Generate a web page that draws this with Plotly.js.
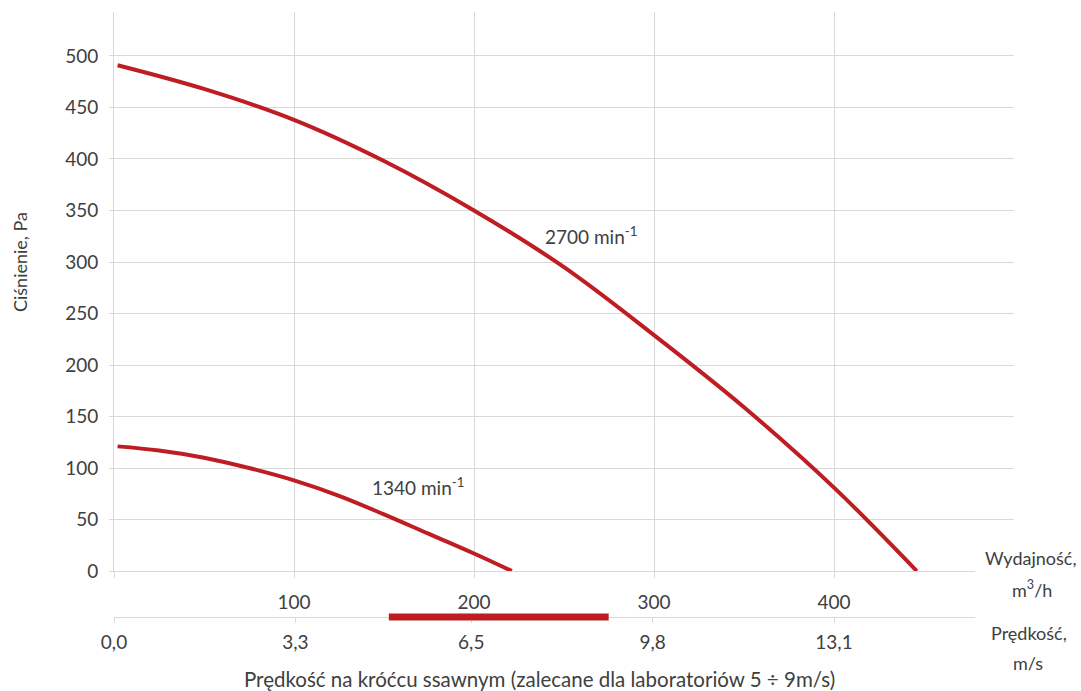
<!DOCTYPE html>
<html>
<head>
<meta charset="utf-8">
<script src="https://cdn.plot.ly/plotly-3.0.1.min.js"></script>
<style>
  html, body { margin: 0; padding: 0; background: #ffffff; }
  #chart { width: 1081px; height: 691px; }
</style>
</head>
<body>
<div id="chart"></div>
<script>
// ---- data ----
const flow2700 = [2, 50, 100, 150, 200, 250, 300, 350, 400, 446];        // m3/h
const pressure2700 = [491, 468, 438, 398, 350, 295, 229, 159, 81, 0];  // Pa
const flow1340 = [2, 25, 50, 75, 100, 125, 150, 175, 200, 221];          // m3/h
const pressure1340 = [121, 117, 110, 100, 88, 73, 55, 36, 17, 0];      // Pa

const flowTicks = [0, 100, 200, 300, 400, 500];
const flowTickLabels = ['', '100', '200', '300', '400', ''];
const velocityTicks = [0.0, 3.3, 6.5, 9.8, 13.1];                       // m/s
const pressureTicks = [0, 50, 100, 150, 200, 250, 300, 350, 400, 450, 500];
const recommendedSpeed = [5, 9];                                         // m/s

const curveLabels = ['2700 min<sup>-1</sup>', '1340 min<sup>-1</sup>'];
const yTitle = 'Ciśnienie, Pa';
const xTitle = 'Prędkość na króćcu ssawnym (zalecane dla laboratoriów 5 ÷ 9m/s)';
const flowUnitLabel = 'Wydajność,';
const flowUnit = 'm<sup>3</sup>/h';
const speedUnitLabel = 'Prędkość,';
const speedUnit = 'm/s';

// ---- style ----
const RED = '#be1e23';
const GRID = '#d9d9d9';
const TXT = '#404040';
const FONT = 'Lato, "Open Sans", sans-serif';
const TICK = 19;

const traces = [
  { x: flow2700, y: pressure2700, xaxis: 'x', yaxis: 'y', type: 'scatter', mode: 'lines',
    line: { color: RED, width: 4, shape: 'spline', smoothing: 1 }, hoverinfo: 'skip' },
  { x: flow1340, y: pressure1340, xaxis: 'x', yaxis: 'y', type: 'scatter', mode: 'lines',
    line: { color: RED, width: 4, shape: 'spline', smoothing: 1 }, hoverinfo: 'skip' }
];

const layout = {
  width: 1081, height: 691,
  margin: { l: 114, r: 67, t: 12, b: 74, pad: 0 },
  paper_bgcolor: '#ffffff', plot_bgcolor: '#ffffff',
  separators: ', ',
  showlegend: false,
  font: { family: FONT, size: TICK, color: TXT },
  xaxis: {
    range: [0, 500], anchor: 'y',
    tickmode: 'array', tickvals: flowTicks, ticktext: flowTickLabels,
    showgrid: true, gridcolor: GRID, gridwidth: 1,
    showline: true, linecolor: GRID, linewidth: 1,
    ticks: 'outside', ticklen: 6, tickcolor: GRID,
    ticklabelstandoff: 8,
    zeroline: false, fixedrange: true,
    tickfont: { family: FONT, size: TICK, color: TXT }
  },
  xaxis2: {
    range: [0, 16.375], overlaying: 'x', anchor: 'free', position: 0, side: 'bottom',
    tickmode: 'array', tickvals: velocityTicks, tickformat: '.1f',
    showgrid: false,
    showline: true, linecolor: GRID, linewidth: 1,
    ticks: 'outside', ticklen: 5, tickcolor: GRID,
    ticklabelstandoff: 3,
    zeroline: false, fixedrange: true,
    tickfont: { family: FONT, size: TICK, color: TXT }
  },
  yaxis: {
    domain: [0.076, 1], range: [0, 542.7],
    tickmode: 'array', tickvals: pressureTicks,
    showgrid: true, gridcolor: GRID, gridwidth: 1,
    showline: true, linecolor: GRID, linewidth: 1,
    ticks: 'outside', ticklen: 4, tickcolor: GRID,
    ticklabelstandoff: 7,
    zeroline: false, fixedrange: true,
    tickfont: { family: FONT, size: TICK, color: TXT }
  },
  shapes: [
    // white box behind the unit labels (hides axis ends as in the reference)
    { type: 'rect', xref: 'paper', yref: 'paper', x0: 0.9567, x1: 1.2, y0: -0.25, y1: 0.1438,
      fillcolor: '#ffffff', line: { width: 0 }, layer: 'above' },
    // recommended velocity range bar
    { type: 'line', xref: 'x2', yref: 'paper', x0: recommendedSpeed[0], x1: recommendedSpeed[1],
      y0: 0, y1: 0, line: { color: RED, width: 7 }, layer: 'above' }
  ],
  annotations: [
    { text: curveLabels[0], x: 238.3, y: 326, xref: 'x', yref: 'y', xanchor: 'left', yanchor: 'middle',
      showarrow: false, font: { family: FONT, size: 19, color: TXT } },
    { text: curveLabels[1], x: 142.2, y: 81.6, xref: 'x', yref: 'y', xanchor: 'left', yanchor: 'middle',
      showarrow: false, font: { family: FONT, size: 19, color: TXT } },
    { text: yTitle, x: -0.1044, y: 0.5868, xref: 'paper', yref: 'paper', textangle: -90,
      xanchor: 'center', yanchor: 'middle', showarrow: false, font: { family: FONT, size: 18, color: TXT } },
    { text: xTitle, x: 0.4733, y: -0.1025, xref: 'paper', yref: 'paper',
      xanchor: 'center', yanchor: 'middle', showarrow: false, font: { family: FONT, size: 20.5, color: TXT } },
    { text: flowUnitLabel, x: 1.0178, y: 0.0975, xref: 'paper', yref: 'paper',
      xanchor: 'center', yanchor: 'middle', showarrow: false, font: { family: FONT, size: 18, color: TXT } },
    { text: flowUnit, x: 1.02, y: 0.0463, xref: 'paper', yref: 'paper',
      xanchor: 'center', yanchor: 'middle', showarrow: false, font: { family: FONT, size: 18, color: TXT } },
    { text: speedUnitLabel, x: 1.0167, y: -0.0264, xref: 'paper', yref: 'paper',
      xanchor: 'center', yanchor: 'middle', showarrow: false, font: { family: FONT, size: 18, color: TXT } },
    { text: speedUnit, x: 1.0156, y: -0.0760, xref: 'paper', yref: 'paper',
      xanchor: 'center', yanchor: 'middle', showarrow: false, font: { family: FONT, size: 18, color: TXT } }
  ]
};

Plotly.newPlot('chart', traces, layout, { staticPlot: true, displayModeBar: false });
</script>
</body>
</html>
